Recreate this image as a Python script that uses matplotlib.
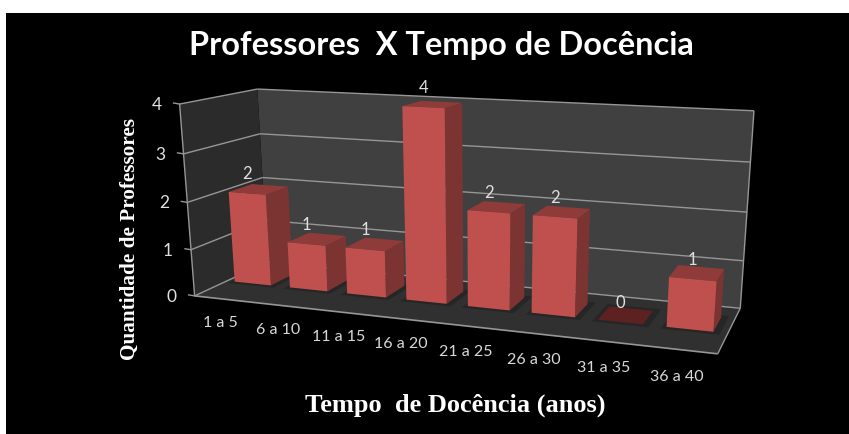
import matplotlib
matplotlib.use('Agg')
import matplotlib.pyplot as plt
from matplotlib.patches import Polygon
import numpy as np

categories = ['1 a 5', '6 a 10', '11 a 15', '16 a 20', '21 a 25', '26 a 30', '31 a 35', '36 a 40']
values = [2, 1, 1, 4, 2, 2, 0, 1]
y_ticks = [0, 1, 2, 3, 4]

W, H = 849, 434
n = len(categories)
ymax = y_ticks[-1]

# corners of the 3d box on the canvas: (category, value, depth) -> pixel
box = [((0, 0, 0), (194, 294)), ((0, ymax, 0), (180, 105)),
       ((0, 0, 1), (268, 264)), ((0, ymax, 1), (257, 88)),
       ((n, 0, 1), (740, 307)), ((n, ymax, 1), (754, 111)),
       ((n, 0, 0), (718, 355))]

rows = []
rhs = []
for (a, b, c), (u, v) in box:
    rows.append([a, b, c, 1, 0, 0, 0, 0, -u*a, -u*b, -u*c])
    rows.append([0, 0, 0, 0, a, b, c, 1, -v*a, -v*b, -v*c])
    rhs += [u, v]
sol = np.linalg.lstsq(np.array(rows, float), np.array(rhs, float), rcond=None)[0]
P = np.append(sol, 1).reshape(3, 4)


def proj(a, b, c):
    p = P @ np.array([a, b, c, 1.0])
    return p[0]/p[2], p[1]/p[2]


def face(ax, pts, color, z, **kw):
    ax.add_patch(Polygon([proj(*p) for p in pts], closed=True, fc=color, ec='none', zorder=z, **kw))


def line3(ax, p0, p1, color='#969696', lw=1.0, z=2):
    x0, y0 = proj(*p0)
    x1, y1 = proj(*p1)
    ax.plot([x0, x1], [y0, y1], color=color, lw=lw, zorder=z, solid_capstyle='butt')


fig = plt.figure(figsize=(W/100, H/100), dpi=100, facecolor='white')
ax = fig.add_axes([0, 0, 1, 1])
ax.set_xlim(0, W)
ax.set_ylim(H, 0)
ax.axis('off')
ax.add_patch(plt.Rectangle((6, 13), W-6, H-13, fc='black', ec='none', zorder=0))

# walls and floor
face(ax, [(0, 0, 1), (n, 0, 1), (n, ymax, 1), (0, ymax, 1)], '#404040', 1)
face(ax, [(0, 0, 0), (0, 0, 1), (0, ymax, 1), (0, ymax, 0)], '#2b2b2b', 1)
face(ax, [(0, 0, 0), (n, 0, 0), (n, 0, 1), (0, 0, 1)], '#303030', 1)

for t in y_ticks:
    line3(ax, (0, t, 0), (0, t, 1))
    line3(ax, (0, t, 1), (n, t, 1))
    x0, y0 = proj(0, t, 0)
    ax.plot([x0-6, x0], [y0-1, y0], color='#969696', lw=1.0, zorder=2)
    ax.text(x0-23, y0+1, str(t), color='#e0e0e0', fontsize=12.5, family='Lato', ha='center', va='center', zorder=6)
line3(ax, (0, 0, 0), (0, ymax, 0))
line3(ax, (0, 0, 0), (n, 0, 0), lw=1.2)
line3(ax, (n, 0, 0), (n, 0, 1))
line3(ax, (n, 0, 1), (n, ymax, 1))

# bars, left to right so the nearer side faces overlap properly
bw = 0.33
z0, z1 = 0.42, 0.74
for i, v in enumerate(values):
    c = i+0.47
    a0, a1 = c-bw, c+bw
    face(ax, [(a0-0.06, 0, z0-0.05), (a1+0.1, 0, z0-0.05), (a1+0.1, 0, z1+0.05), (a0-0.06, 0, z1+0.05)], '#262626', 3)
for i, v in enumerate(values):
    c = i+0.47
    a0, a1 = c-bw, c+bw
    if v == 0:
        face(ax, [(a0, 0, z0), (a1, 0, z0), (a1, 0, z1), (a0, 0, z1)], '#5c2120', 4)
    else:
        face(ax, [(a1, 0, z0), (a1, 0, z1), (a1, v, z1), (a1, v, z0)], '#7c3432', 4)
        face(ax, [(a0, v, z0), (a1, v, z0), (a1, v, z1), (a0, v, z1)], '#8f3b39', 4)
        face(ax, [(a0, 0, z0), (a1, 0, z0), (a1, v, z0), (a0, v, z0)], '#c0504d', 4)
    x, y = proj(c, v, z0)
    ax.text(x, y-19, str(v), color='#e0e0e0', fontsize=12, family='Lato', ha='center', va='center', zorder=6)

    # category labels hang below the front edge
    x, y = proj(i+0.5, 0, 0)
    ax.text(x-3, y+24+3*i/7, categories[i], color='#d9d9d9', fontsize=11.5, family='Lato', ha='center', va='center', zorder=6)

ax.text(441, 46, 'Professores  X Tempo de Docência', color='white', fontsize=23.4, family='Lato', weight='bold', ha='center', va='center')
ax.text(130, 239, 'Quantidade de Professores', color='white', fontsize=15.3, family='Liberation Serif', weight='bold', ha='center', va='center', rotation=90)
ax.text(455, 405, 'Tempo  de Docência (anos)', color='white', fontsize=19, family='Liberation Serif', weight='bold', ha='center', va='center')

fig.savefig('out.png', dpi=100, facecolor='white')
